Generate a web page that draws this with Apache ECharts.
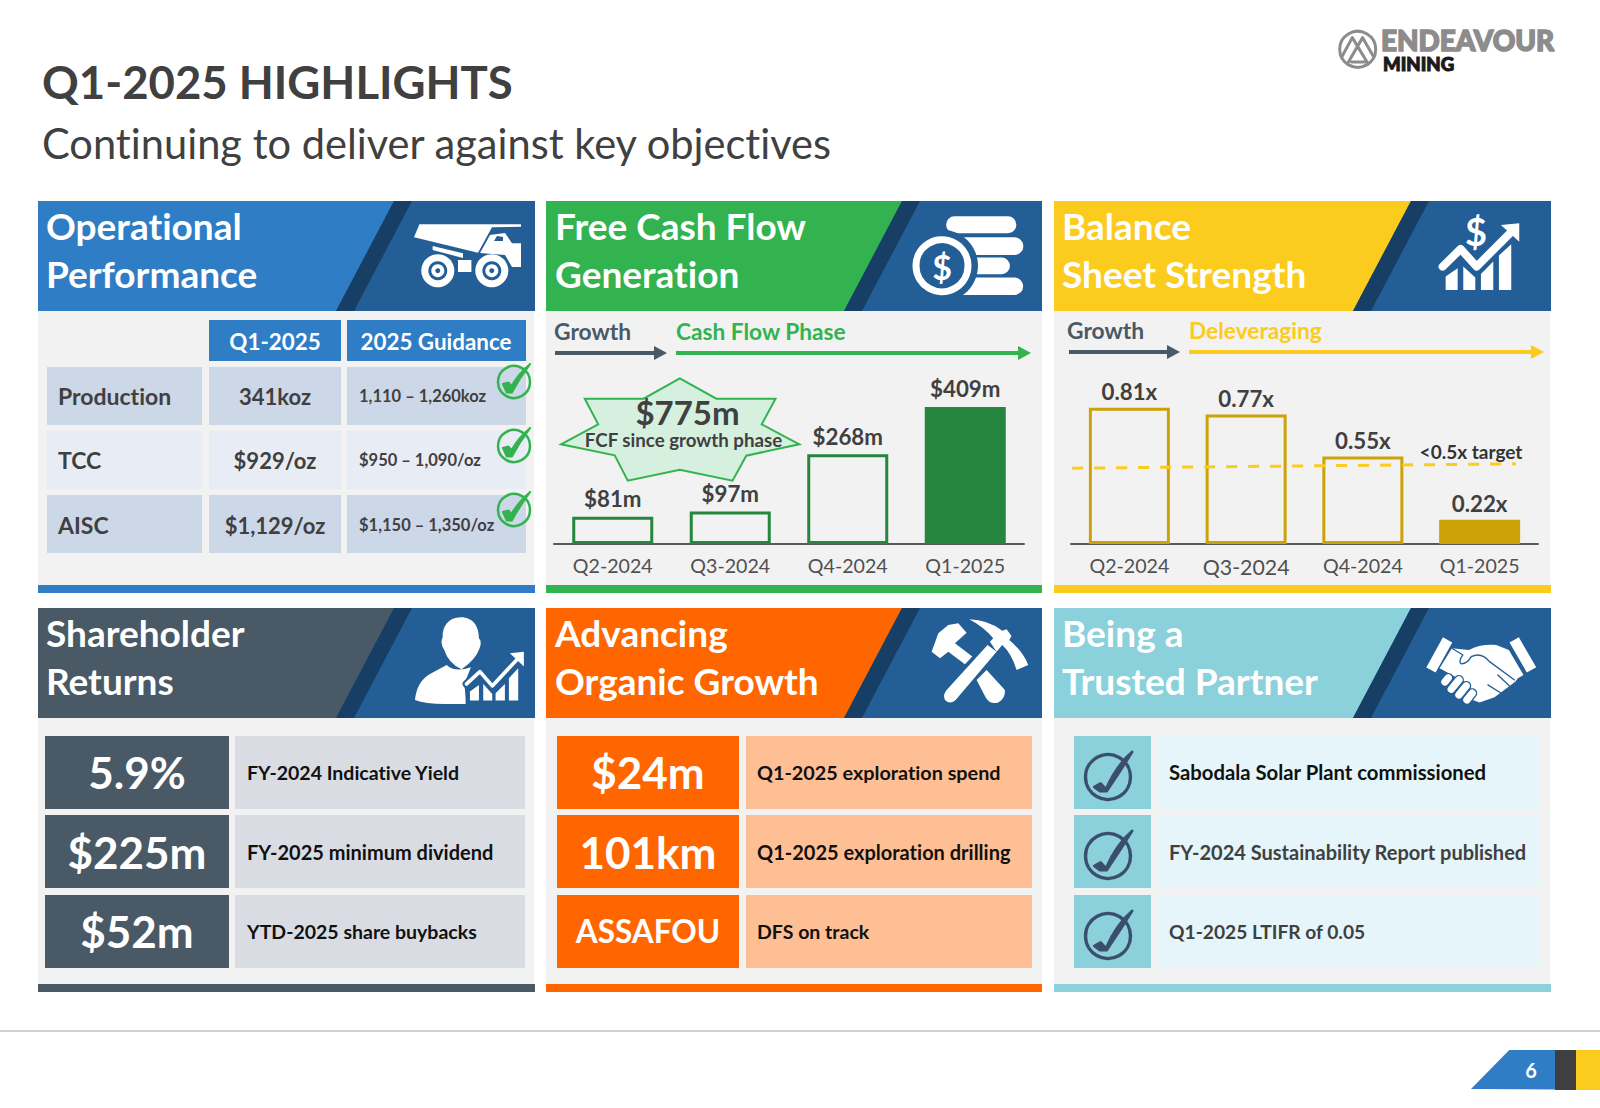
<!DOCTYPE html>
<html>
<head>
    <meta charset="utf-8">
    <title>Q1-2025 Highlights</title>
    <style type="text/css">
        html,body { width: 100%; height: 100%; margin: 0; padding: 0; background: #fff; }
        #main { width: 1600px; height: 1108px; }
        #main text { font-variant-ligatures: none; }
    </style>
    <script src="https://cdn.jsdelivr.net/npm/echarts@6/dist/echarts.min.js"></script>
</head>
<body>
<div id="main"></div>
<script type="text/javascript">
    // chart values
    var quarters = ['Q2-2024', 'Q3-2024', 'Q4-2024', 'Q1-2025'];
    var fcfValues = [81, 97, 268, 409];
    var fcfLabels = ['$81m', '$97m', '$268m', '$409m'];
    // the slide's leverage bars are not to scale, so these are the drawn heights, the printed figures are the labels
    var leverageValues = [0.81, 0.77, 0.52, 0.145];
    var leverageLabels = ['0.81x', '0.77x', '0.55x', '0.22x'];
    var targetX = [0.01, 3.81];
    var targetY = [0.451, 0.477];

    // table and text content
    var panelTitles = [
        ['Operational', 'Performance'], ['Free Cash Flow', 'Generation'], ['Balance', 'Sheet Strength'],
        ['Shareholder', 'Returns'], ['Advancing', 'Organic Growth'], ['Being a', 'Trusted Partner']
    ];
    var panelColors = ['#2E7DC5', '#33B350', '#FBCB1E', '#495966', '#FF6600', '#8AD1DC'];
    var tableHead = ['Q1-2025', '2025 Guidance'];
    var tableMetrics = ['Production', 'TCC', 'AISC'];
    var tableActual = ['341koz', '$929/oz', '$1,129/oz'];
    var tableGuidance = ['1,110 – 1,260koz', '$950 – 1,090/oz', '$1,150 – 1,350/oz'];
    var returnFigures = ['5.9%', '$225m', '$52m'];
    var returnNotes = ['FY-2024 Indicative Yield', 'FY-2025 minimum dividend', 'YTD-2025 share buybacks'];
    var growthFigures = ['$24m', '101km', 'ASSAFOU'];
    var growthNotes = ['Q1-2025 exploration spend', 'Q1-2025 exploration drilling', 'DFS on track'];
    var partnerNotes = ['Sabodala Solar Plant commissioned', 'FY-2024 Sustainability Report published', 'Q1-2025 LTIFR of 0.05'];

    var FONT = 'Lato';
    var INK = '#404040';
    var SLATE = '#495966';
    var NAVY = '#235F96';
    var STRIPE = '#173F66';
    var GREEN = '#33B350';
    var YELLOW = '#FBCB1E';

    var myChart = echarts.init(document.getElementById('main'), null, {renderer: 'svg'});
    var g = [];
    var iconCount = 0;

    function rect(x, y, w, h, fill) {
        g.push({type: 'rect', shape: {x: x, y: y, width: w, height: h}, style: {fill: fill}, silent: true});
    }
    function poly(points, fill, stroke, lineWidth) {
        g.push({type: 'polygon', shape: {points: points}, style: {fill: fill, stroke: stroke || null, lineWidth: lineWidth || 0}, silent: true});
    }
    function text(x, y, str, size, color, weight, align, strokeWidth) {
        g.push({type: 'text', x: x, y: y, silent: true, style: {
            text: str, fontFamily: FONT, fontSize: size, fontWeight: weight || 'bold', fill: color,
            align: align || 'left', verticalAlign: 'middle', lineHeight: Math.round(size * (weight === 900 ? 0.8 : 1)),
            stroke: strokeWidth ? color : null, lineWidth: strokeWidth || 0
        }});
    }
    // icon paths are written in 3x pixels from their own corner
    function icon(x, y, d, fill, stroke, lineWidth) {
        var name = 'icon' + (iconCount++);
        echarts.graphic.registerShape(name, echarts.graphic.extendPath(d, {}));
        g.push({type: name, x: x, y: y, scaleX: 1 / 3, scaleY: 1 / 3, silent: true,
            style: {fill: fill || 'none', stroke: stroke || 'none', lineWidth: lineWidth || 0, lineCap: 'round', lineJoin: 'round'}});
    }
    function circle(cx, cy, r, fill, stroke, lineWidth) {
        g.push({type: 'circle', shape: {cx: cx, cy: cy, r: r}, silent: true,
            style: {fill: fill || 'none', stroke: stroke || 'none', lineWidth: lineWidth || 0}});
    }
    function arrow(x0, x1, y, color) {
        rect(x0, y - 2, x1 - x0 - 12, 4, color);
        poly([[x1 - 13, y - 7], [x1, y], [x1 - 13, y + 7]], color);
    }

    // title block
    text(42, 81, 'Q1-2025 HIGHLIGHTS', 45.5, INK);
    text(42, 143, 'Continuing to deliver against key objectives', 41.6, INK, 'normal');

    // logo
    circle(1357.7, 49.3, 18, 'none', '#8C8C8C', 3);
    icon(1300, 0, 'M125 172L157 113L205 192M142 192L188 113L222 172M155 186H200', 'none', '#8C8C8C', 9);
    text(1381, 40.3, 'ENDEAVOUR', 27.9, '#8C8C8C', 900, 'left', 1.5);
    text(1383, 63.5, 'MINING', 18.6, '#1A1A1A', 900, 'left', 1);

    // panel frames
    var colLeft = [38, 546, 1054];
    var titleX = [46, 555, 1062];
    var stripeShift = [0, 0, 1];
    var panelW = [497, 496, 497];
    var rowTop = [201, 608];
    var rowBottom = [585, 984];
    panelTitles.forEach(function (lines, i) {
        var c = i % 3, x = colLeft[c], w = panelW[c], r = i < 3 ? 0 : 1, top = rowTop[r], bottom = top + 110, s = x + stripeShift[c];
        rect(x, bottom, 496, rowBottom[r] - bottom, '#F2F2F2');
        rect(x, top, w, 110, panelColors[i]);
        poly([[s + 356, top], [x + w, top], [x + w, bottom], [s + 298, bottom]], NAVY);
        poly([[s + 356, top], [s + 374, top], [s + 316, bottom], [s + 298, bottom]], STRIPE);
        rect(x, rowBottom[r], w, 8, panelColors[i]);
        text(titleX[c], top + 24, lines[0], 37, '#fff');
        text(titleX[c], top + 72, lines[1], 37, '#fff');
    });

    // operational table
    var tableRowY = [367, 431, 495];
    var tableTextMid = [396, 460, 525];
    var tableRowFill = ['#CCD7E8', '#E8ECF5', '#CCD7E8'];
    rect(209, 320, 132, 41, panelColors[0]);
    rect(347, 320, 179, 41, panelColors[0]);
    text(275, 341, tableHead[0], 22.4, '#fff', 'bold', 'center');
    text(436, 341, tableHead[1], 22.4, '#fff', 'bold', 'center');
    tableMetrics.forEach(function (m, i) {
        var y = tableRowY[i], mid = tableTextMid[i];
        rect(47, y, 155, 58, tableRowFill[i]);
        rect(209, y, 132, 58, tableRowFill[i]);
        rect(347, y, 179, 58, tableRowFill[i]);
        text(58, mid, m, 23, INK);
        text(275, mid, tableActual[i], 22, INK, 'bold', 'center');
        text(359, mid, tableGuidance[i], 16.5, INK);
        circle(514, y + 15, 16, 'none', GREEN, 2.5);
        icon(30, y - 57, 'M1420 222L1437 218L1446 228Q1468 190 1502 162Q1470 205 1447 248L1432 248Z', GREEN, GREEN, 6);
    });

    // headers over the two bar charts
    text(554, 331, 'Growth', 22.8, SLATE);
    text(676, 331, 'Cash Flow Phase', 22.7, GREEN);
    arrow(555, 667, 353, SLATE);
    arrow(676, 1031, 353, GREEN);
    text(1067, 330, 'Growth', 22.8, SLATE);
    text(1189, 330, 'Deleveraging', 22.7, YELLOW);
    arrow(1069, 1180, 352, SLATE);
    arrow(1189, 1544, 352, YELLOW);

    // $775m burst
    poly([[679.8, 378.3], [716.3, 398.7], [775.5, 398.7], [761.7, 424.3], [799.3, 444.3], [746.3, 455.7], [732.5, 480.7],
        [679.8, 469.7], [627.8, 480.7], [614.7, 455.3], [561, 444.3], [598.2, 424.3], [584.8, 398.7], [643.6, 398.7]], '#D5F0DF', GREEN, 2);
    text(687.5, 412, '$775m', 33, INK, 'bold', 'center');
    text(683.5, 440, 'FCF since growth phase', 18.7, INK, 'bold', 'center');

    text(1471, 451, '<0.5x target', 19, '#333', 'bold', 'center');

    // shareholder returns and organic growth lists
    var listY = [736, 815, 895];
    var listH = [73, 73, 73];
    var noteMid = [772, 852, 931];
    var returnNoteSize = [19.5, 20, 19.5];
    var growthNoteSize = [19.8, 20, 19.5];
    var partnerNoteSize = [20.3, 20, 19.2];
    returnFigures.forEach(function (f, i) {
        rect(45, listY[i], 184, listH[i], SLATE);
        rect(235, listY[i], 290, listH[i], '#D9DDE3');
        text(137, noteMid[i], f, 44, '#fff', 'bold', 'center');
        text(247, noteMid[i], returnNotes[i], returnNoteSize[i], '#111');
    });
    growthFigures.forEach(function (f, i) {
        rect(557, listY[i], 182, listH[i], '#FF6600');
        rect(746, listY[i], 286, listH[i], '#FFBF94');
        text(648, noteMid[i], f, i === 2 ? 31.5 : 44, '#fff', 'bold', 'center');
        text(757, noteMid[i], growthNotes[i], growthNoteSize[i], '#111');
    });
    partnerNotes.forEach(function (n, i) {
        var mid = noteMid[i];
        rect(1074, listY[i], 77, listH[i], '#8AD1DC');
        rect(1157, listY[i], 382, listH[i], '#E5F5F9');
        text(1169, mid, n, partnerNoteSize[i], i === 0 ? '#111' : INK);
        circle(1108, listY[i] + 41, 22.5, 'none', '#3B4F6B', 3.4);
        icon(1050, listY[i] + 41 - 178.3, 'M133 565L152 555L168 572Q200 500 247 460Q210 520 170 578L150 578Z', '#3B4F6B', '#3B4F6B', 8);
    });

    // truck
    poly([[419.4, 224.3], [521, 224.3], [521, 226.7], [492, 227.3], [478, 252.7], [414, 237.3]], '#fff');
    poly([[490, 235], [505, 233], [512, 243.3], [521, 243.3], [521, 267], [512, 267], [505, 255], [480, 253]], '#fff');
    poly([[494, 241], [503, 241], [503, 237], [497, 236]], NAVY);
    poly([[432.6, 246], [463, 253.3], [463, 258], [432.6, 250]], '#fff');
    rect(458, 260, 13.4, 12, '#fff');
    [437.8, 491.8].forEach(function (cx) {
        circle(cx, 270.7, 16.5, '#fff');
        circle(cx, 270.7, 9.5, NAVY);
        circle(cx, 270.7, 6.5, '#fff');
        circle(cx, 270.7, 2.5, NAVY);
    });

    // coin stack
    icon(900, 205, 'M164 34H324A25 25 0 0 1 324 85H164A25 25 0 0 1 164 34Z' +
        'M150 97H344A26 26 0 0 1 344 150H150ZM150 158H305A25 25 0 0 1 305 208H150ZM150 218H344A26 26 0 0 1 344 270H150Z', '#fff');
    circle(942, 265.7, 36, NAVY);
    circle(942, 265.7, 26, 'none', '#fff', 7);
    text(942, 266, '$', 34, '#fff', 'bold', 'center');

    // growth chart with dollar sign
    text(1476, 231, '$', 38, '#fff', 'bold', 'center');
    icon(1420, 205, 'M77 215L113 190V255H77ZM130 185L166 218V255H130ZM183 207L220 170V255H183ZM237 152L274 118V255H237Z', '#fff');
    icon(1420, 205, 'M68 185L122 132L170 185L275 80', 'none', '#fff', 24);
    icon(1420, 205, 'M243 60L298 55L298 110Z', '#fff');

    // person with chart
    icon(405, 610, 'M168 22C205 22 222 50 222 85Q232 95 224 115Q212 150 170 178Q130 160 118 120Q104 100 113 82C112 50 130 22 168 22Z', '#fff');
    icon(405, 610, 'M125 165Q150 188 198 172L178 222L185 282L120 282Q60 282 30 270Q35 215 75 192Z', '#fff');
    icon(405, 610, 'M182 215H345V285H182Z', NAVY);
    icon(405, 610, 'M185 222L225 185L262 228L340 145', 'none', NAVY, 24);
    icon(405, 610, 'M195 245L222 225V272H195ZM235 222L262 252V272H235ZM272 250L300 222V272H272ZM312 205L340 175V272H312Z', '#fff');
    icon(405, 610, 'M185 222L225 185L262 228L340 145', 'none', '#fff', 11);
    icon(405, 610, 'M315 130L357 125L357 170Z', '#fff');

    // hammer and pick
    icon(915, 610, 'M50 125L75 145L100 125L150 163L172 140L120 100L155 68L130 40L100 45L70 70Z' +
        'M215 180L270 240Q272 265 250 278Q225 285 212 262L185 210Z' +
        'M218 105L245 125L122 270Q105 285 90 270Q82 255 95 240Z', '#fff');
    icon(915, 610, 'M163 28Q220 30 262 62L275 58L290 78L283 90Q325 125 340 165L305 180Q290 130 262 105L245 125L225 95L235 85Q205 50 163 28Z', '#fff');

    // handshake
    icon(1050, 600, 'M1180 112L1208 128L1158 218L1130 203ZM1380 128L1408 112L1460 202L1432 218Z', '#fff');
    icon(1050, 600, 'M1170 205L1207 145L1258 150Q1290 132 1340 135L1378 150L1422 225L1405 235L1398 245L1335 292L1290 308L1255 295L1225 235Z', '#fff');
    icon(1050, 600, 'M1207 145L1240 165Q1225 185 1235 192Q1255 190 1265 170Q1295 155 1320 185L1395 240M1345 225L1380 258M1315 255L1355 280', 'none', NAVY, 4);
    var fingers = 'M1196 234L1186 246M1228 240L1205 268M1250 258L1228 285M1268 280L1252 300';
    icon(1050, 600, fingers, 'none', NAVY, 30);
    icon(1050, 600, fingers, 'none', '#fff', 22);

    // footer
    rect(0, 1030, 1600, 2, '#D0D0D0');
    poly([[1471, 1089], [1509.3, 1050], [1555, 1050], [1555, 1089.5]], panelColors[0]);
    rect(1555, 1050, 21, 40, '#3F3F3F');
    rect(1576, 1050, 24, 40, YELLOW);
    text(1531, 1070, '6', 20, '#fff', 'bold', 'center');

    function outlined(values, labels, dark) {
        return values.map(function (v, i) {
            var last = i === values.length - 1;
            return {
                value: v,
                itemStyle: {color: last ? dark : 'rgba(0,0,0,0)', borderColor: dark, borderWidth: 3},
                label: {formatter: labels[i]}
            };
        });
    }
    var barLabel = {show: true, position: 'top', color: INK, fontFamily: FONT, fontWeight: 'bold', fontSize: 22.3};
    var axisLine = {show: true, lineStyle: {color: '#595959', width: 2}};

    option = {
        animation: false,
        backgroundColor: '#fff',
        graphic: {elements: g},
        grid: [
            {left: 554, top: 344, width: 470, height: 200},
            {left: 1071, top: 344, width: 467, height: 200}
        ],
        xAxis: [
            {type: 'category', gridIndex: 0, data: quarters, axisLine: axisLine, axisTick: {show: false},
                axisLabel: {color: '#505050', fontFamily: FONT, fontSize: 19.6, margin: 11, interval: 0}},
            {type: 'category', gridIndex: 1, data: quarters, axisLine: axisLine, axisTick: {show: false},
                axisLabel: {color: '#505050', fontFamily: FONT, fontSize: 19.6, margin: 11, interval: 0,
                    formatter: function (v, i) { return i === 1 ? '{big|' + v + '}' : v; },
                    rich: {big: {fontFamily: FONT, fontSize: 21.3, color: '#505050', padding: [1, 0, 0, 0]}}}},
            {type: 'value', gridIndex: 1, min: 0, max: 4, show: false}
        ],
        yAxis: [
            {type: 'value', gridIndex: 0, min: 0, max: 597, show: false},
            {type: 'value', gridIndex: 1, min: 0, max: 1.19, show: false}
        ],
        series: [
            {type: 'bar', xAxisIndex: 0, yAxisIndex: 0, barWidth: 81, label: Object.assign({distance: 7}, barLabel), data: outlined(fcfValues, fcfLabels, '#26853E')},
            {type: 'bar', xAxisIndex: 1, yAxisIndex: 1, barWidth: 81, label: Object.assign({distance: 5}, barLabel), data: outlined(leverageValues, leverageLabels, '#CCA206')},
            {type: 'line', xAxisIndex: 2, yAxisIndex: 1, symbol: 'none', z: 5,
                lineStyle: {color: YELLOW, width: 3, type: [11, 11]},
                data: targetX.map(function (x, i) { return [x, targetY[i]]; })}
        ]
    };

    myChart.setOption(option);
</script>
</body>
</html>
